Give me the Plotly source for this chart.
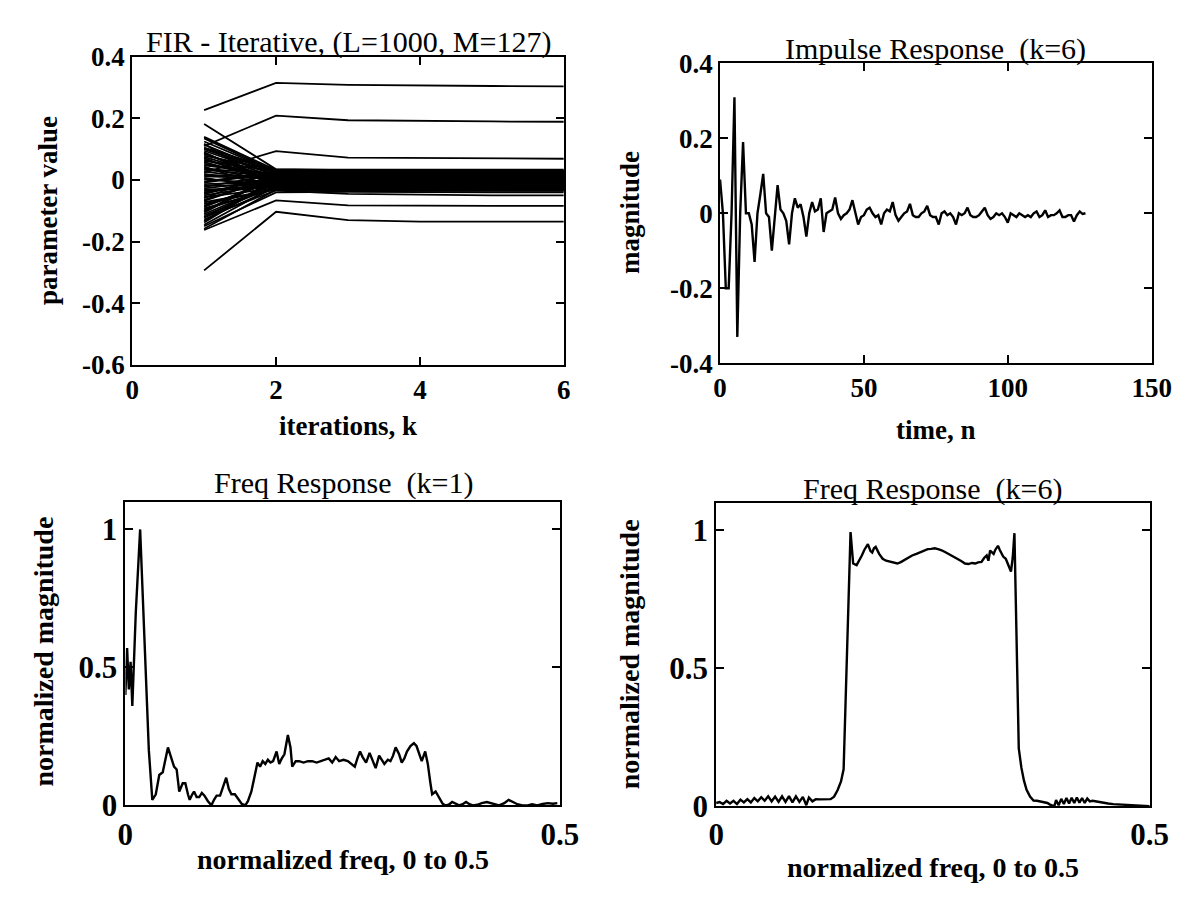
import plotly.graph_objects as go

W, H = 1191, 903

# --- FIR iterative: parameter values at each iteration k=1..6 ---
iterations = [1, 2, 3, 4, 5, 6]
param_k1 = [0.227, 0.110, 0.024, 0.182, 0.100, -0.162, -0.293, -0.120, -0.150, 0.140,
            0.125, 0.115, 0.095, 0.085, 0.075, 0.066, 0.058, 0.048, 0.040, 0.033,
            0.020, 0.012, 0.003, -0.008, -0.018, -0.027, -0.035, -0.046, -0.055, -0.064,
            -0.072, -0.083, -0.092, -0.101, -0.110, -0.128, -0.138, -0.158, 0.105, 0.090,
            0.062, -0.040, -0.068, -0.115, 0.135, 0.118, 0.102, 0.088, 0.079, 0.071,
            0.053, 0.044, 0.036, 0.027, 0.016, 0.007, -0.004, -0.013, -0.022, -0.031,
            -0.041, -0.050, -0.059, -0.077, -0.087, -0.096, -0.105, -0.122, -0.133, -0.145]
param_k2 = [0.315, 0.209, 0.094, 0.035, 0.028, -0.066, -0.103, -0.034, -0.040, 0.032,
            0.026, 0.020, 0.015, 0.010, 0.006, 0.003, -0.002, 0.018, -0.006, 0.012,
            -0.010, 0.005, -0.014, 0.022, -0.018, 0.000, -0.022, 0.013, -0.026, 0.008,
            -0.030, -0.004, -0.028, 0.019, -0.012, -0.024, 0.003, -0.031, 0.034, -0.017,
            0.029, -0.008, 0.010, -0.020, 0.027, -0.025, 0.016, -0.009, 0.031, -0.016,
            0.004, -0.033, 0.021, -0.001, 0.011, -0.028, 0.025, -0.006, 0.018, -0.021,
            0.009, -0.012, 0.032, -0.030, 0.001, -0.024, 0.013, -0.003, 0.006, -0.018]
param_k3 = [0.309, 0.194, 0.073, 0.032, 0.027, -0.082, -0.130, -0.045, -0.038, 0.030,
            0.022, 0.018, 0.012, 0.008, 0.004, 0.001, -0.003, 0.015, -0.007, 0.010,
            -0.011, 0.006, -0.015, 0.024, -0.019, -0.001, -0.023, 0.016, -0.027, 0.007,
            -0.031, -0.005, -0.034, 0.020, -0.013, -0.029, 0.002, -0.033, 0.034, -0.017,
            0.028, -0.009, 0.011, -0.021, 0.026, -0.026, 0.015, -0.010, 0.030, -0.017,
            0.003, -0.034, 0.022, -0.002, 0.012, -0.029, 0.024, -0.007, 0.017, -0.022,
            0.010, -0.013, 0.031, -0.031, 0.000, -0.025, 0.014, -0.004, 0.005, -0.019]
param_k4 = [0.306, 0.191, 0.071, 0.031, 0.026, -0.084, -0.135, -0.048, -0.040, 0.030,
            0.022, 0.017, 0.012, 0.008, 0.004, 0.001, -0.003, 0.015, -0.007, 0.010,
            -0.011, 0.006, -0.015, 0.024, -0.019, -0.001, -0.023, 0.016, -0.027, 0.007,
            -0.031, -0.005, -0.035, 0.020, -0.013, -0.029, 0.002, -0.033, 0.034, -0.017,
            0.028, -0.009, 0.011, -0.021, 0.026, -0.026, 0.015, -0.010, 0.030, -0.017,
            0.003, -0.034, 0.022, -0.002, 0.012, -0.029, 0.024, -0.007, 0.017, -0.022,
            0.010, -0.013, 0.031, -0.031, 0.000, -0.025, 0.014, -0.004, 0.005, -0.019]
param_k5 = [0.305, 0.190, 0.070, 0.030, 0.025, -0.084, -0.135, -0.050, -0.040, 0.030,
            0.021, 0.017, 0.012, 0.008, 0.004, 0.001, -0.003, 0.014, -0.007, 0.010,
            -0.011, 0.006, -0.015, 0.024, -0.019, -0.001, -0.023, 0.016, -0.027, 0.007,
            -0.031, -0.005, -0.035, 0.020, -0.013, -0.029, 0.002, -0.033, 0.034, -0.017,
            0.028, -0.009, 0.011, -0.021, 0.026, -0.026, 0.015, -0.010, 0.030, -0.017,
            0.003, -0.034, 0.022, -0.002, 0.012, -0.029, 0.024, -0.007, 0.017, -0.022,
            0.010, -0.013, 0.031, -0.031, 0.000, -0.025, 0.014, -0.004, 0.005, -0.019]
param_k6 = [0.304, 0.189, 0.069, 0.030, 0.025, -0.084, -0.135, -0.050, -0.040, 0.030,
            0.021, 0.017, 0.012, 0.008, 0.004, 0.001, -0.003, 0.014, -0.007, 0.010,
            -0.011, 0.006, -0.015, 0.024, -0.019, -0.001, -0.023, 0.016, -0.027, 0.007,
            -0.031, -0.005, -0.035, 0.020, -0.013, -0.029, 0.002, -0.033, 0.034, -0.017,
            0.028, -0.009, 0.011, -0.021, 0.026, -0.026, 0.015, -0.010, 0.030, -0.017,
            0.003, -0.034, 0.022, -0.002, 0.012, -0.029, 0.024, -0.007, 0.017, -0.022,
            0.010, -0.013, 0.031, -0.031, 0.000, -0.025, 0.014, -0.004, 0.005, -0.019]

# --- Impulse response at k=6, n = 0..127 ---
impulse = [0.09, 0.0, -0.20, -0.20, 0.0, 0.31, -0.33, 0.0, 0.19, 0.0,
           0.0, -0.03, -0.13, 0.0, 0.05, 0.105, 0.0, -0.01, -0.10, 0.0,
           0.075, 0.01, 0.0, -0.02, -0.083, 0.0, 0.04, 0.015, 0.024, -0.01,
           -0.062, 0.0, 0.03, 0.005, 0.01, 0.04, -0.05, 0.0, 0.005, 0.01,
           0.042, 0.0, -0.015, -0.005, 0.0, 0.01, 0.035, 0.0, -0.03, -0.01,
           -0.005, 0.01, 0.015, 0.0, -0.01, -0.005, -0.03, 0.0, 0.01, 0.005,
           0.03, -0.005, -0.02, -0.01, 0.0, 0.005, 0.025, -0.005, -0.01, -0.01,
           0.0, 0.005, 0.02, -0.005, -0.01, -0.01, -0.03, 0.0, 0.005, -0.005,
           0.0, -0.01, -0.03, 0.0, -0.005, 0.0, 0.015, -0.005, -0.01, -0.01,
           -0.005, 0.005, 0.015, -0.005, -0.015, -0.01, 0.0, -0.005, 0.0, -0.01,
           -0.025, 0.0, -0.005, -0.01, 0.0, -0.005, -0.01, -0.005, -0.01, 0.0,
           0.005, -0.01, -0.005, 0.008, -0.01, -0.005, -0.005, 0.0, 0.008, -0.01,
           -0.01, -0.005, -0.005, -0.022, -0.005, 0.005, -0.002, 0.0]
time_n = list(range(len(impulse)))

# --- Frequency response k=1 ---
freq_k1 = [0.000, 0.002, 0.004, 0.006, 0.008, 0.012, 0.017, 0.022, 0.027, 0.031,
           0.035, 0.039, 0.043, 0.049, 0.053, 0.056, 0.059, 0.062, 0.066, 0.069,
           0.072, 0.074, 0.077, 0.079, 0.082, 0.085, 0.088, 0.091, 0.095, 0.099,
           0.102, 0.105, 0.109, 0.113, 0.116, 0.119, 0.122, 0.126, 0.130, 0.134,
           0.138, 0.141, 0.145, 0.148, 0.152, 0.155, 0.158, 0.161, 0.164, 0.167,
           0.170, 0.174, 0.177, 0.180, 0.183, 0.187, 0.190, 0.192, 0.196, 0.200,
           0.205, 0.210, 0.215, 0.220, 0.225, 0.230, 0.234, 0.238, 0.242, 0.246,
           0.251, 0.256, 0.260, 0.264, 0.267, 0.270, 0.273, 0.277, 0.281, 0.285,
           0.288, 0.292, 0.295, 0.298, 0.302, 0.305, 0.308, 0.311, 0.315, 0.318,
           0.321, 0.324, 0.328, 0.332, 0.335, 0.338, 0.341, 0.345, 0.348, 0.351,
           0.353, 0.357, 0.361, 0.365, 0.368, 0.372, 0.376, 0.380, 0.384, 0.388,
           0.392, 0.396, 0.400, 0.405, 0.410, 0.416, 0.421, 0.426, 0.430, 0.436,
           0.441, 0.446, 0.451, 0.457, 0.463, 0.468, 0.474, 0.480, 0.486, 0.492,
           0.497]
mag_k1 = [0.40, 0.57, 0.42, 0.52, 0.36, 0.70, 1.00, 0.62, 0.20, 0.02,
          0.04, 0.11, 0.12, 0.21, 0.17, 0.14, 0.13, 0.05, 0.08, 0.08,
          0.04, 0.02, 0.04, 0.05, 0.03, 0.03, 0.045, 0.035, 0.015, 0.0,
          0.02, 0.035, 0.035, 0.07, 0.10, 0.06, 0.04, 0.04, 0.02, 0.005,
          0.0, 0.015, 0.05, 0.10, 0.155, 0.14, 0.16, 0.15, 0.165, 0.155,
          0.16, 0.195, 0.15, 0.17, 0.185, 0.255, 0.21, 0.14, 0.16, 0.16,
          0.155, 0.16, 0.16, 0.155, 0.16, 0.165, 0.17, 0.155, 0.175, 0.16,
          0.165, 0.16, 0.15, 0.14, 0.17, 0.195, 0.175, 0.155, 0.19, 0.16,
          0.135, 0.18, 0.165, 0.15, 0.165, 0.16, 0.18, 0.21, 0.185, 0.155,
          0.17, 0.195, 0.215, 0.225, 0.215, 0.19, 0.16, 0.195, 0.15, 0.08,
          0.04, 0.05, 0.025, 0.006, 0.0, 0.002, 0.012, 0.005, 0.0, 0.004,
          0.012, 0.004, 0.0, 0.002, 0.008, 0.012, 0.008, 0.004, 0.0, 0.008,
          0.02, 0.012, 0.004, 0.0, 0.0, 0.004, 0.0, 0.005, 0.008, 0.006,
          0.008]

# --- Frequency response k=6 ---
freq_k6 = [0.000, 0.004, 0.008, 0.012, 0.016, 0.020, 0.024, 0.028, 0.032, 0.036,
           0.040, 0.044, 0.048, 0.052, 0.056, 0.060, 0.064, 0.068, 0.072, 0.076,
           0.080, 0.084, 0.088, 0.092, 0.096, 0.100, 0.104, 0.107, 0.111, 0.115,
           0.120, 0.126, 0.132, 0.136, 0.140, 0.144, 0.147, 0.155, 0.158, 0.162,
           0.165, 0.168, 0.171, 0.175, 0.178, 0.180, 0.182, 0.184, 0.188, 0.192,
           0.196, 0.201, 0.205, 0.209, 0.213, 0.218, 0.222, 0.226, 0.231, 0.236,
           0.240, 0.244, 0.248, 0.252, 0.256, 0.260, 0.265, 0.270, 0.274, 0.278,
           0.283, 0.287, 0.291, 0.295, 0.299, 0.302, 0.306, 0.309, 0.312, 0.314,
           0.316, 0.318, 0.320, 0.322, 0.325, 0.327, 0.329, 0.331, 0.334, 0.337,
           0.340, 0.342, 0.344, 0.349, 0.352, 0.355, 0.358, 0.362, 0.366, 0.370,
           0.374, 0.378, 0.382, 0.385, 0.388, 0.390, 0.392, 0.395, 0.398, 0.401,
           0.404, 0.407, 0.410, 0.413, 0.416, 0.419, 0.422, 0.425, 0.428, 0.431,
           0.434, 0.440, 0.446, 0.452, 0.458, 0.464, 0.470, 0.476, 0.482, 0.488,
           0.494, 0.500]
mag_k6 = [0.012, 0.015, 0.008, 0.020, 0.010, 0.020, 0.008, 0.024, 0.014, 0.026,
          0.014, 0.030, 0.018, 0.033, 0.020, 0.036, 0.018, 0.035, 0.016, 0.036,
          0.016, 0.037, 0.014, 0.036, 0.016, 0.034, 0.004, 0.032, 0.018, 0.026,
          0.025, 0.026, 0.026, 0.035, 0.058, 0.090, 0.134, 0.994, 0.880, 0.874,
          0.890, 0.909, 0.930, 0.950, 0.925, 0.920, 0.935, 0.940, 0.915, 0.897,
          0.890, 0.886, 0.885, 0.880, 0.885, 0.895, 0.900, 0.909, 0.915, 0.922,
          0.928, 0.932, 0.933, 0.935, 0.932, 0.928, 0.920, 0.910, 0.903, 0.897,
          0.888, 0.880, 0.878, 0.882, 0.880, 0.884, 0.886, 0.900, 0.909, 0.890,
          0.927, 0.920, 0.915, 0.930, 0.944, 0.930, 0.915, 0.905, 0.897, 0.870,
          0.851, 0.900, 0.990, 0.210, 0.140, 0.093, 0.060, 0.035, 0.021, 0.020,
          0.018, 0.015, 0.012, 0.006, 0.002, 0.000, 0.023, 0.004, 0.027, 0.008,
          0.030, 0.010, 0.031, 0.012, 0.032, 0.013, 0.030, 0.012, 0.028, 0.018,
          0.020, 0.016, 0.013, 0.010, 0.008, 0.007, 0.006, 0.004, 0.003, 0.002,
          0.001, 0.000]

FONT = "Liberation Serif"


def dom_x(a, b):
    return [a / W, b / W]


def dom_y(top, bottom):
    return [1 - bottom / H, 1 - top / H]


def axis(domain, rng, tickvals, ticktext, size, anchor):
    return dict(
        domain=domain, range=rng, anchor=anchor, autorange=False,
        tickvals=tickvals, ticktext=ticktext,
        showline=True, linecolor="black", linewidth=2, mirror="ticks",
        ticks="inside", ticklen=8, tickwidth=1.5, tickcolor="black",
        showgrid=False, zeroline=False,
        tickfont=dict(family=FONT, size=size, color="black", weight="bold"),
    )


fig = go.Figure()

# parameter trajectories, one line per coefficient
xs, ys = [], []
for vals in zip(param_k1, param_k2, param_k3, param_k4, param_k5, param_k6):
    xs += iterations + [None]
    ys += list(vals) + [None]
fig.add_trace(go.Scatter(x=xs, y=ys, mode="lines", line=dict(color="black", width=1.8),
                         xaxis="x", yaxis="y", showlegend=False))

fig.add_trace(go.Scatter(x=time_n, y=impulse, mode="lines", line=dict(color="black", width=2.4),
                         xaxis="x2", yaxis="y2", showlegend=False))

fig.add_trace(go.Scatter(x=freq_k1, y=mag_k1, mode="lines", line=dict(color="black", width=2.4),
                         xaxis="x3", yaxis="y3", showlegend=False))

fig.add_trace(go.Scatter(x=freq_k6, y=mag_k6, mode="lines", line=dict(color="black", width=2.4),
                         xaxis="x4", yaxis="y4", showlegend=False))

fig.update_layout(
    width=W, height=H, margin=dict(l=0, r=0, t=0, b=0),
    paper_bgcolor="white", plot_bgcolor="white", showlegend=False,
    xaxis=axis(dom_x(119, 561), [0, 6], [0, 2, 4, 6], ["0", "2", "4", "6"], 27, "y"),
    yaxis=axis(dom_y(35, 355), [-0.6, 0.4], [-0.6, -0.4, -0.2, 0, 0.2, 0.4],
               ["-0.6", "-0.4", "-0.2", "0", "0.2", "0.4"], 27, "x"),
    xaxis2=axis(dom_x(721, 1163), [0, 150], [0, 50, 100, 150], ["0", "50", "100", "150"], 27, "y2"),
    yaxis2=axis(dom_y(42, 353), [-0.4, 0.4], [-0.4, -0.2, 0, 0.2, 0.4],
                ["-0.4", "-0.2", "0", "0.2", "0.4"], 27, "x2"),
    xaxis3=axis(dom_x(112, 557), [0, 0.5], [0, 0.5], ["0", "0.5"], 31, "y3"),
    yaxis3=axis(dom_y(497, 812), [0, 1.1], [0, 0.5, 1], ["0", "0.5", "1"], 31, "x3"),
    xaxis4=axis(dom_x(717, 1161), [0, 0.5], [0, 0.5], ["0", "0.5"], 31, "y4"),
    yaxis4=axis(dom_y(498, 813), [0, 1.1], [0, 0.5, 1], ["0", "0.5", "1"], 31, "x4"),
)


def label(text, x, y, size=27, angle=0, bold=True):
    fig.add_annotation(
        text=f"<b>{text}</b>" if bold else text, x=x / W, y=1 - y / H,
        xref="paper", yref="paper", showarrow=False, textangle=angle,
        xanchor="center", yanchor="middle",
        font=dict(family=FONT, size=size, color="black"),
    )


# subplot titles
label("FIR - Iterative, (L=1000, M=127)", 340, 20, 30, bold=False)
label("Impulse Response  (k=6)", 942, 27, 30, bold=False)
label("Freq Response  (k=1)", 335, 477, 30, bold=False)
label("Freq Response  (k=6)", 939, 484, 30, bold=False)

# axis titles
label("parameter value", 33, 195, 27, angle=-90)
label("iterations, k", 340, 418, 27)
label("magnitude", 629, 197, 27, angle=-90)
label("time, n", 942, 422, 27)
label("normalized magnitude", 28, 652, 28, angle=-90)
label("normalized freq, 0 to 0.5", 335, 868, 28)
label("normalized magnitude", 628, 655, 28, angle=-90)
label("normalized freq, 0 to 0.5", 939, 877, 28)

fig.write_html("out.html")
